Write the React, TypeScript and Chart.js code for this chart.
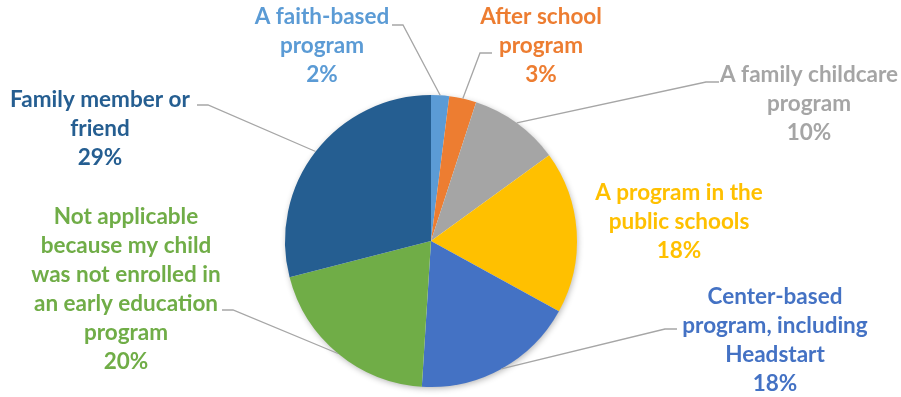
import { useEffect, useRef } from 'react';
import { Chart, registerables } from 'chart.js';

Chart.register(...registerables);

const categories: string[][] = [
  ['A faith-based', 'program'],
  ['After school', 'program'],
  ['A family childcare', 'program'],
  ['A program in the', 'public schools'],
  ['Center-based', 'program, including', 'Headstart'],
  ['Not applicable', 'because my child', 'was not enrolled in', 'an early education', 'program'],
  ['Family member or', 'friend'],
];
const values: number[] = [2, 3, 10, 18, 18, 20, 29];
const colors: string[] = ['#5B9BD5', '#ED7D31', '#A5A5A5', '#FFC000', '#4472C4', '#70AD47', '#255E91'];

// label layout: text center x, first line center y, leader start (hx, hy), elbow (ex, ey)
type LabelLayout = { tx: number; ty: number; leader?: [number, number, number, number] };
const labelLayout: LabelLayout[] = [
  { tx: 322, ty: 17, leader: [392, 25, 403, 25] },
  { tx: 541, ty: 17, leader: [492, 53, 480, 53] },
  { tx: 809, ty: 75, leader: [719, 82, 706, 82] },
  { tx: 679, ty: 193 },
  { tx: 775, ty: 297, leader: [677, 329, 665, 329] },
  { tx: 126, ty: 217, leader: [222, 310, 233, 310] },
  { tx: 100, ty: 100, leader: [197, 105, 208, 105] },
];
const LINE_H = 29;
const FONT = 'bold 22.5px Lato, "Open Sans", sans-serif';

const shadowPlugin = {
  id: 'pieShadow',
  beforeDatasetsDraw(chart: any) {
    const arc = chart.getDatasetMeta(0).data[0];
    if (!arc) return;
    const { x, y, outerRadius } = arc.getProps(['x', 'y', 'outerRadius'], true);
    const ctx = chart.ctx;
    ctx.save();
    ctx.shadowColor = 'rgba(0,0,0,0.3)';
    ctx.shadowBlur = 6;
    ctx.shadowOffsetX = 1;
    ctx.shadowOffsetY = 2;
    ctx.beginPath();
    ctx.arc(x, y, outerRadius - 0.5, 0, Math.PI * 2);
    ctx.fillStyle = '#ffffff';
    ctx.fill();
    ctx.restore();
  },
};

const labelPlugin = {
  id: 'outerLabels',
  afterDatasetsDraw(chart: any) {
    const ctx = chart.ctx;
    const meta = chart.getDatasetMeta(0);
    const total = values.reduce((a, b) => a + b, 0);
    meta.data.forEach((arc: any, i: number) => {
      const { x, y, startAngle, endAngle, outerRadius } = arc.getProps(
        ['x', 'y', 'startAngle', 'endAngle', 'outerRadius'],
        true
      );
      const mid = (startAngle + endAngle) / 2;
      const px = x + Math.cos(mid) * outerRadius;
      const py = y + Math.sin(mid) * outerRadius;
      const lay = labelLayout[i];
      ctx.save();
      if (lay.leader) {
        const [hx, hy, ex, ey] = lay.leader;
        ctx.strokeStyle = '#A6A6A6';
        ctx.lineWidth = 1.3;
        ctx.beginPath();
        ctx.moveTo(hx, hy);
        ctx.lineTo(ex, ey);
        ctx.lineTo(px, py);
        ctx.stroke();
      }
      ctx.fillStyle = colors[i];
      ctx.font = FONT;
      ctx.textAlign = 'center';
      ctx.textBaseline = 'middle';
      const lines = [...categories[i], Math.round((values[i] / total) * 100) + '%'];
      lines.forEach((t, k) => ctx.fillText(t, lay.tx, lay.ty + k * LINE_H));
      ctx.restore();
    });
  },
};

export default function App() {
  const ref = useRef<HTMLCanvasElement>(null);
  useEffect(() => {
    if (!ref.current) return;
    const chart = new Chart(ref.current, {
      type: 'pie',
      data: {
        labels: categories.map((c) => c.join(' ')),
        datasets: [
          {
            data: values,
            backgroundColor: colors,
            borderWidth: 0,
          },
        ],
      },
      options: {
        responsive: false,
        animation: false,
        layout: { padding: { left: 0, right: 39, top: 95, bottom: 10 } },
        plugins: {
          legend: { display: false },
          tooltip: { enabled: false },
        },
      },
      plugins: [shadowPlugin, labelPlugin],
    });
    return () => chart.destroy();
  }, []);
  return (
    <div style={{ position: 'absolute', left: 0, top: 0, width: 901, height: 397, background: '#fff' }}>
      <canvas ref={ref} width={901} height={397} style={{ display: 'block' }} />
    </div>
  );
}
